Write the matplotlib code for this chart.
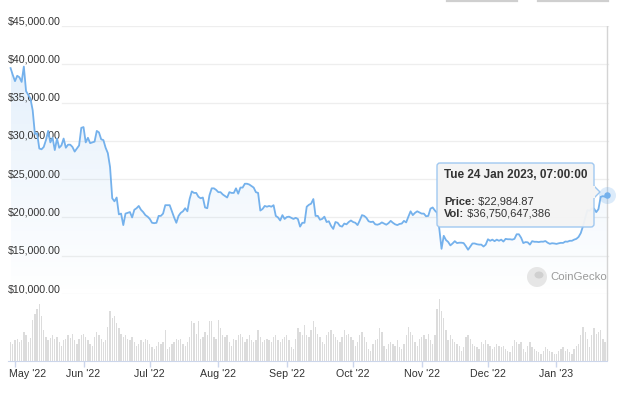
import matplotlib
matplotlib.use("Agg")
import matplotlib.pyplot as plt
import matplotlib.dates as mdates
from matplotlib.colors import LinearSegmentedColormap
from matplotlib.patches import FancyBboxPatch, Polygon, Ellipse
from matplotlib.lines import Line2D
from matplotlib.transforms import Affine2D, ScaledTranslation
import numpy as np
import pandas as pd

# daily BTC price (USD), 29 Apr 2022 .. 24 Jan 2023
price_apr = [39500, 38600]
price_may = [37800, 38500, 38300, 37700, 39700, 36500, 36000, 35500, 34000, 30900,
             31000, 29000, 28900, 29200, 30100, 31300, 29800, 30400, 28800, 30300,
             29100, 29400, 30300, 29100, 29500, 29500, 29200, 28600, 29000, 29400,
             31700]
price_jun = [31800, 29800, 30400, 29700, 29800, 29900, 31300, 31100, 30200, 30100,
             29100, 28400, 26600, 22500, 22100, 22600, 20400, 20500, 19000, 20500,
             20600, 20700, 20000, 21000, 21200, 21500, 21000, 20700, 20300, 20100]
price_jul = [19800, 19300, 19250, 19300, 20200, 20200, 20500, 21600, 21600, 21600,
             20800, 20000, 19300, 20200, 20600, 20800, 21200, 20800, 22400, 23400,
             23200, 23200, 22700, 22500, 22600, 21300, 21200, 22900, 23800, 23800,
             23600]
price_aug = [23300, 23300, 23000, 22800, 22600, 23300, 23200, 23200, 23800, 23100,
             23900, 23900, 24400, 24400, 24300, 24100, 23900, 23300, 23200, 20900,
             21100, 21500, 21400, 21500, 21400, 21600, 20200, 20000, 19600, 20300,
             19800]
price_sep = [20050, 20100, 19950, 19800, 19950, 19800, 18800, 19300, 19300, 21400,
             21650, 21800, 22400, 20200, 20200, 19700, 19800, 20100, 19400, 19500,
             18900, 18500, 19400, 19300, 18900, 18800, 19200, 19100, 19400, 19600]
price_oct = [19400, 19300, 19000, 19600, 20300, 20200, 19950, 19500, 19400, 19450,
             19100, 19050, 19150, 19350, 19200, 19050, 19250, 19550, 19300, 19100,
             19000, 19150, 19200, 19550, 19350, 20100, 20800, 20300, 20600, 20800,
             20650]
price_nov = [20500, 20500, 20150, 20200, 21150, 21300, 20900, 20600, 18500, 15900,
             17600, 17050, 16800, 16350, 16600, 16900, 16650, 16700, 16700, 16650,
             16250, 15780, 16200, 16600, 16600, 16500, 16450, 16450, 16200, 16450]
price_dec = [17150, 16950, 17100, 16900, 17100, 16950, 17100, 16850, 17200, 17150,
             17150, 17100, 17200, 17800, 17800, 17350, 16650, 16780, 16750, 16450,
             16900, 16820, 16820, 16780, 16840, 16830, 16920, 16700, 16550, 16630,
             16600]
price_jan = [16540, 16620, 16680, 16670, 16850, 16830, 16950, 16950, 17100, 17200,
             17450, 17950, 18850, 19950, 20950, 20880, 21170, 21160, 20690, 21080,
             22680, 22780, 22700, 22984.87]

# daily volume, billions USD
vol_apr = [22, 20]
vol_may = [24, 26, 22, 25, 34, 30, 22, 27, 48, 55, 60, 66, 52, 36, 28, 24, 27, 30, 26, 28,
           22, 18, 24, 26, 30, 27, 32, 24, 20, 26, 30]
vol_jun = [32, 28, 24, 20, 18, 28, 34, 30, 26, 22, 24, 40, 58, 50, 52, 44, 38, 32, 28, 30,
           26, 24, 28, 22, 18, 20, 24, 22, 26, 24]
vol_jul = [20, 16, 14, 18, 22, 20, 22, 36, 14, 16, 20, 22, 26, 24, 26, 20, 18, 22, 28, 46,
           44, 32, 46, 26, 28, 34, 30, 46, 46, 28, 26]
vol_aug = [48, 38, 30, 28, 30, 22, 18, 26, 24, 30, 32, 28, 22, 26, 30, 24, 22, 24, 36, 28,
           22, 24, 26, 24, 22, 28, 30, 24, 22, 26, 28]
vol_sep = [30, 24, 16, 14, 26, 38, 34, 30, 42, 30, 28, 36, 46, 40, 32, 28, 22, 20, 30, 34,
           36, 32, 28, 24, 22, 28, 36, 30, 32, 28]
vol_oct = [24, 18, 22, 30, 34, 28, 22, 14, 12, 20, 24, 26, 38, 34, 18, 14, 20, 22, 20, 18,
           24, 16, 14, 20, 30, 40, 34, 30, 22, 18, 26]
vol_nov = [28, 30, 26, 32, 24, 20, 30, 60, 72, 58, 50, 36, 24, 30, 26, 22, 20, 18, 12, 16,
           28, 30, 26, 20, 18, 16, 14, 22, 20, 24]
vol_dec = [20, 18, 14, 16, 20, 18, 16, 18, 14, 12, 10, 18, 24, 22, 20, 22, 14, 10, 18, 22,
           16, 14, 12, 10, 8, 12, 16, 14, 12, 10, 8]
vol_jan = [8, 12, 14, 16, 12, 14, 10, 8, 14, 18, 20, 30, 40, 34, 26, 16, 30, 38, 32, 34,
           36, 26, 22, 36.750647386]

price_ticks = [10000, 15000, 20000, 25000, 30000, 35000, 40000, 45000]
month_ticks = ["2022-05-01", "2022-06-01", "2022-07-01", "2022-08-01", "2022-09-01",
               "2022-10-01", "2022-11-01", "2022-12-01", "2023-01-01"]
month_labels = ["May '22", "Jun '22", "Jul '22", "Aug '22", "Sep '22",
                "Oct '22", "Nov '22", "Dec '22", "Jan '23"]

prices = np.array(price_apr + price_may + price_jun + price_jul + price_aug +
                  price_sep + price_oct + price_nov + price_dec + price_jan, dtype=float)
vols = np.array(vol_apr + vol_may + vol_jun + vol_jul + vol_aug +
                vol_sep + vol_oct + vol_nov + vol_dec + vol_jan, dtype=float)
dates = mdates.date2num(pd.date_range("2022-04-29", periods=len(prices), freq="D").to_pydatetime())

W, H = 624, 396
plt.rcParams['font.family'] = ['Liberation Sans', 'DejaVu Sans']
fig = plt.figure(figsize=(W / 100, H / 100), dpi=100)
pix = Affine2D().scale(1 / W, -1 / H).translate(0, 1) + fig.transFigure

# x scale: 1 May at 15px, ~2.21 px per day
may1 = mdates.date2num(pd.Timestamp("2022-05-01"))
ppd = 2.21
xlim = (may1 - 15 / ppd, may1 + (W - 15) / ppd)

line_c = '#74b1ec'
txt_c = '#333333'
fs = 7.7

# price axes: 45,000 at y=26, 10,000 at y=294
ax = fig.add_axes([0, 1 - 294 / H, 1, 268 / H])
ax.set_xlim(*xlim)
ax.set_ylim(10000, 45000)
ax.axis('off')

for v in price_ticks:
    ax.axhline(v, xmin=62 / W, xmax=608 / W, color='#eeeeee', lw=0.9, zorder=0)
    ax.annotate(f"${v:,.2f}", xy=(0, v), xycoords=('axes fraction', 'data'),
                xytext=(8, 0), textcoords='offset pixels', ha='left', va='bottom',
                fontsize=fs, color=txt_c)

# gradient area under the line
cmap = LinearSegmentedColormap.from_list('fade', [(0.49, 0.71, 0.93, 0.0), (0.49, 0.71, 0.93, 0.2)])
fb = ax.fill_between(dates, prices, 10000, color='none', lw=0)
grad = np.linspace(1, 0, 256).reshape(-1, 1)
im = ax.imshow(grad, extent=[dates[0], dates[-1], 10000, prices.max()], aspect='auto',
               cmap=cmap, origin='upper', zorder=1)
im.set_clip_path(fb.get_paths()[0], transform=ax.transData)
ax.set_xlim(*xlim)
ax.set_ylim(10000, 45000)

ax.plot(dates, prices, color=line_c, lw=1.3, zorder=3, solid_joinstyle='round')
ax.axvline(dates[-1], color='#d4d4d4', lw=1, zorder=2)
ax.scatter([dates[-1]], [prices[-1]], s=150, color=line_c, alpha=0.25, lw=0, zorder=4)
ax.scatter([dates[-1]], [prices[-1]], s=22, color=line_c, lw=0, zorder=5)

# volume axes
axv = fig.add_axes([0, 1 - 361 / H, 1, 67 / H])
axv.set_xlim(*xlim)
axv.set_ylim(0, 78)
axv.bar(dates, vols, width=0.6, color='#dcdcdc', lw=0)
axv.axvline(dates[-1], color='#d4d4d4', lw=1)
for s in ['top', 'right', 'left']:
    axv.spines[s].set_visible(False)
axv.spines['bottom'].set_color('#ccd6eb')
axv.spines['bottom'].set_bounds(dates[0] - 1, dates[-1])
axv.set_yticks([])
axv.set_xticks(mdates.date2num(pd.to_datetime(month_ticks).to_pydatetime()))
axv.set_xticklabels(month_labels, fontsize=fs, color=txt_c)
axv.tick_params(axis='x', length=4, width=1, color='#ccd6eb', pad=2)
first = axv.get_xticklabels()[0]
first.set_ha('left')
first.set_transform(first.get_transform() + ScaledTranslation(-6 / 100, 0, fig.dpi_scale_trans))

# tooltip
box = FancyBboxPatch((437, 163), 157, 64, boxstyle='round,pad=0,rounding_size=3',
                     transform=pix, facecolor='#f4f4f4', edgecolor='#9cc6f0', lw=1, alpha=0.95,
                     zorder=10)
fig.add_artist(box)
fig.add_artist(Polygon([(594, 186), (600, 192), (594, 198)], closed=False, transform=pix,
                       facecolor='#f4f4f4', edgecolor='#9cc6f0', lw=1, zorder=11))
fig.add_artist(Line2D([594, 594], [187, 197], transform=pix, color='#f4f4f4', lw=1.5, zorder=12))
last_day = pd.Timestamp("2022-04-29") + pd.Timedelta(days=len(prices) - 1)
title = last_day.strftime("%a %d %b %Y") + ", 07:00:00"
fig.text(444, 175, title, transform=pix, fontsize=8.5, fontweight='bold', color=txt_c,
         va='center', zorder=13)
t1 = fig.text(444, 202, "Price:", transform=pix, fontsize=8, fontweight='bold',
              color=txt_c, va='center', zorder=13)
fig.add_artist(plt.Annotation(f" ${prices[-1]:,.2f}", xy=(1, 0.5), xycoords=t1, va='center',
                              fontsize=8, color=txt_c, zorder=13))
t2 = fig.text(444, 214, "Vol:", transform=pix, fontsize=8, fontweight='bold',
              color=txt_c, va='center', zorder=13)
fig.add_artist(plt.Annotation(f" ${vols[-1] * 1e9:,.0f}", xy=(1, 0.5), xycoords=t2, va='center',
                              fontsize=8, color=txt_c, zorder=13))

# watermark
fig.add_artist(Ellipse((537, 277), 20, 20, transform=pix, facecolor='#e6e6e6', edgecolor='none'))
fig.add_artist(Ellipse((539, 275), 9, 7, transform=pix, facecolor='#d0d0d0', edgecolor='none'))
fig.text(550, 277, "CoinGecko", transform=pix, fontsize=8.2, color='#9a9a9a', va='center')

# cut-off buttons at the top edge
for x0, x1 in [(447, 517), (538, 608)]:
    fig.add_artist(Line2D([x0, x1], [0.8, 0.8], transform=pix, color='#cfcfcf', lw=1.6))

fig.savefig("out.png", dpi=100)
